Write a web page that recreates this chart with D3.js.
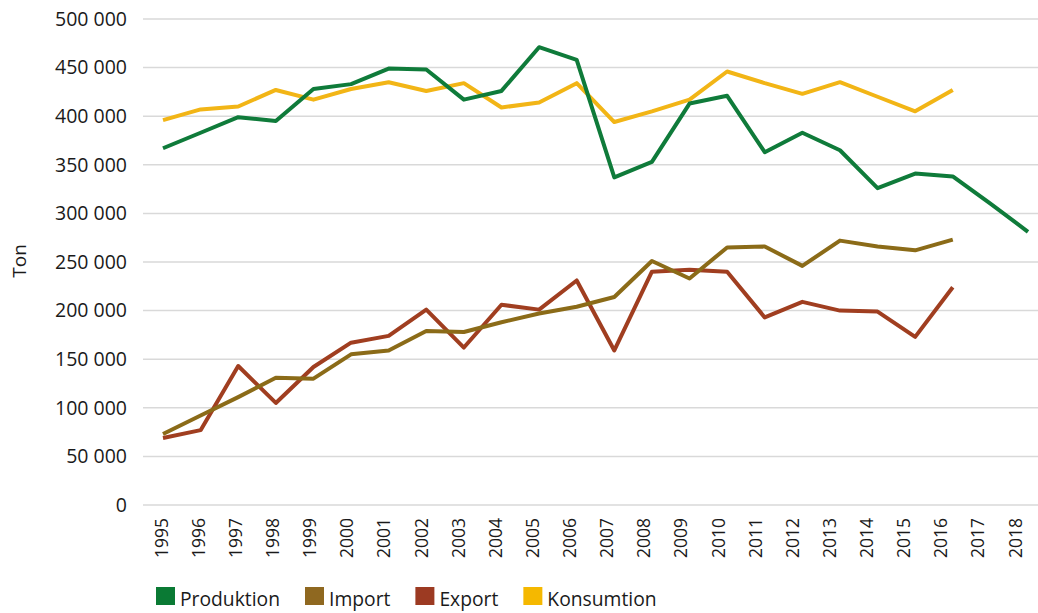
<!DOCTYPE html>
<html>
<head>
<meta charset="utf-8">
<script src="https://cdn.jsdelivr.net/npm/d3@7"></script>
<style>
  body { margin: 0; background: #fff; }
  svg { display: block; font-family: "Open Sans", sans-serif; }
</style>
</head>
<body>
<svg id="chart"></svg>
<script>
// data (ton)
const years = ["1995","1996","1997","1998","1999","2000","2001","2002","2003","2004","2005","2006",
  "2007","2008","2009","2010","2011","2012","2013","2014","2015","2016","2017","2018"];
const produktion = [367000, 383000, 399000, 395000, 428000, 433000, 449000, 448000, 417000, 426000, 471000, 458000,
  337000, 353000, 413000, 421000, 363000, 383000, 365000, 326000, 341000, 338000, 310000, 281000];
const importVals = [73000, 92000, 111000, 131000, 130000, 155000, 159000, 179000, 178000, 188000, 197000, 204000,
  214000, 251000, 233000, 265000, 266000, 246000, 272000, 266000, 262000, 273000, null, null];
const exportVals = [69000, 77000, 143000, 105000, 142000, 167000, 174000, 201000, 162000, 206000, 201000, 231000,
  159000, 240000, 242000, 240000, 193000, 209000, 200000, 199000, 173000, 224000, null, null];
const konsumtion = [396000, 407000, 410000, 427000, 417000, 428000, 435000, 426000, 434000, 409000, 414000, 434000,
  394000, 405000, 417000, 446000, 434000, 423000, 435000, 420000, 405000, 427000, null, null];
const yTicks = [0, 50000, 100000, 150000, 200000, 250000, 300000, 350000, 400000, 450000, 500000];

const seriesNames = ["Produktion", "Import", "Export", "Konsumtion"];
const seriesColors = ["#0f7b3a", "#8b6b18", "#a03e20", "#f2b516"];
const legendColors = ["#0a7a34", "#8f6820", "#9c3a22", "#f5b800"];

const w = 1038, h = 613;
const svg = d3.select("#chart").attr("width", w).attr("height", h);

const y = d3.scaleLinear().domain([0, 500000]).range([505, 19]);
// points of the lines and the year labels sit on slightly different spacings in the original
const x = d3.scalePoint().domain(years).range([163, 1028]);
const xLab = d3.scalePoint().domain(years).range([161, 1015]);

// gridlines
svg.append("g")
  .selectAll("line")
  .data(yTicks)
  .join("line")
  .attr("x1", 143)
  .attr("x2", w)
  .attr("y1", d => y(d))
  .attr("y2", d => y(d))
  .attr("stroke", "#d9d9d9")
  .attr("stroke-width", 1.5);

// y axis labels
const fmt = d => d3.format(",")(d).replace(/,/g, " ");
const yAxis = svg.append("g")
  .attr("transform", "translate(127,0)")
  .call(d3.axisLeft(y).tickValues(yTicks).tickSize(0).tickPadding(0).tickFormat(fmt));
yAxis.select(".domain").remove();
yAxis.selectAll("text")
  .attr("font-family", "Open Sans")
  .attr("font-size", 19.5)
  .attr("fill", "#1a1a1a");

// x axis labels, rotated
const xAxis = svg.append("g")
  .attr("transform", "translate(0,518)")
  .call(d3.axisBottom(xLab).tickSize(0).tickPadding(0));
xAxis.select(".domain").remove();
xAxis.selectAll("text")
  .attr("font-family", "Open Sans")
  .attr("font-size", 17.5)
  .attr("fill", "#1a1a1a")
  .attr("text-anchor", "end")
  .attr("transform", "rotate(-90)")
  .attr("x", 0)
  .attr("y", 0)
  .attr("dx", 0)
  .attr("dy", "0.35em");

// axis title
svg.append("text")
  .attr("transform", "translate(19,261) rotate(-90)")
  .attr("text-anchor", "middle")
  .attr("dy", "0.35em")
  .attr("font-size", 19)
  .attr("fill", "#1a1a1a")
  .text("Ton");

// lines
const allSeries = [produktion, importVals, exportVals, konsumtion];
const line = d3.line()
  .defined(d => d.v != null)
  .x(d => x(d.year))
  .y(d => y(d.v));

// draw order: bottom lines first, then the top ones
[2, 1, 3, 0].forEach(i => {
  const pts = years.map((yr, j) => ({ year: yr, v: allSeries[i][j] }));
  svg.append("path")
    .datum(pts)
    .attr("fill", "none")
    .attr("stroke", seriesColors[i])
    .attr("stroke-width", 4)
    .attr("stroke-linejoin", "round")
    .attr("d", line);
});

// legend
const legend = svg.append("g");
let lx = 156;
seriesNames.forEach((name, i) => {
  legend.append("rect")
    .attr("x", lx)
    .attr("y", 587)
    .attr("width", 19)
    .attr("height", 18)
    .attr("fill", legendColors[i]);
  const t = legend.append("text")
    .attr("x", lx + 24)
    .attr("y", 606)
    .attr("font-size", 19.3)
    .attr("fill", "#1a1a1a")
    .text(name);
  lx += 24 + t.node().getComputedTextLength() + 25;
});
</script>
</body>
</html>
